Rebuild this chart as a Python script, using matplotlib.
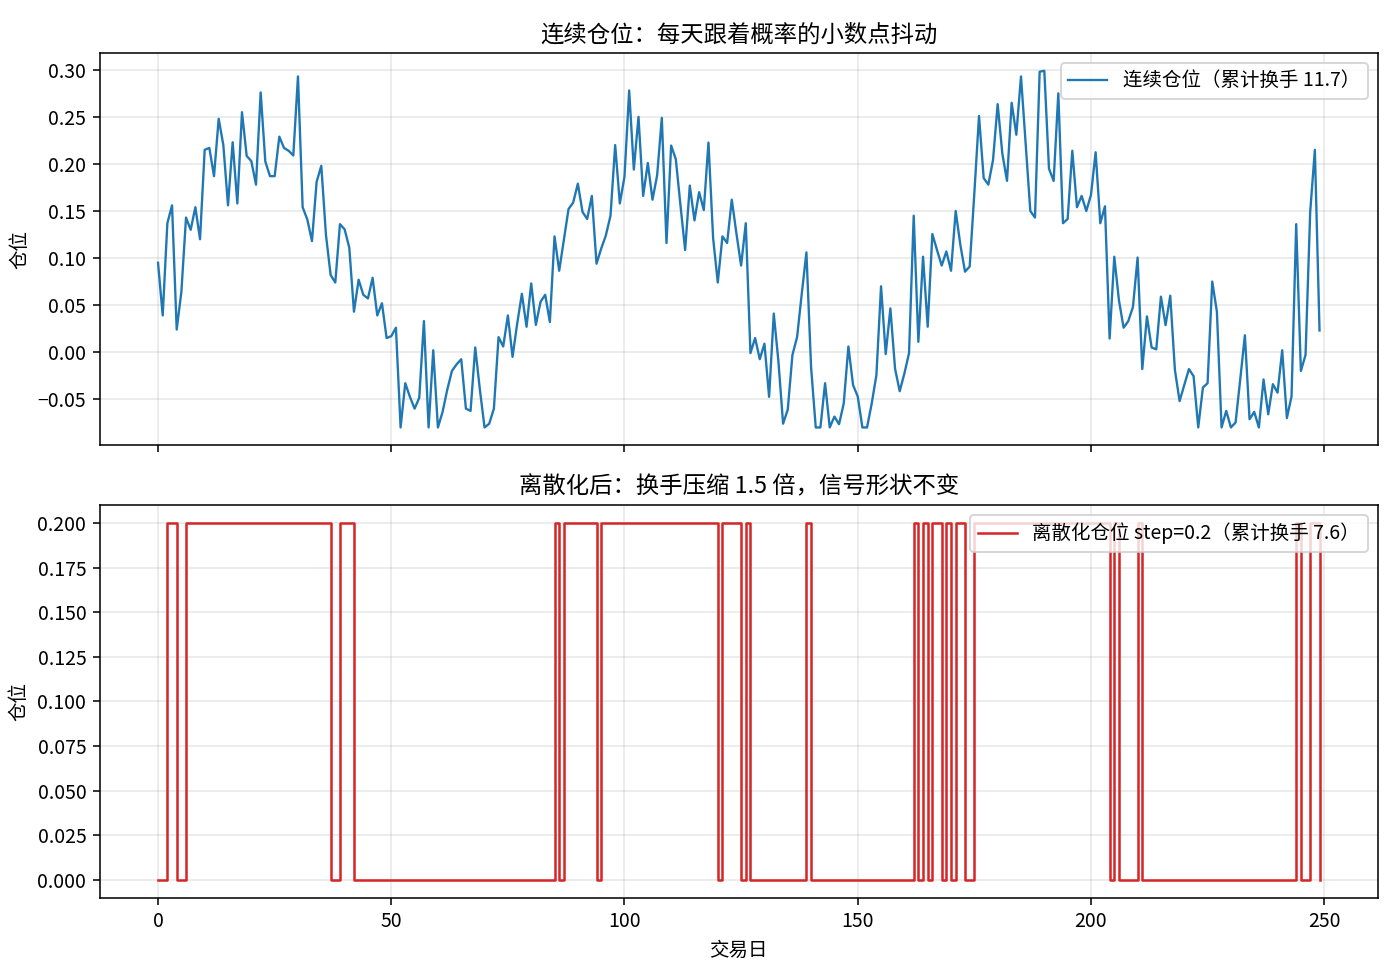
import numpy as np
import matplotlib
matplotlib.use("Agg")
import matplotlib.pyplot as plt

plt.rcParams['font.family'] = ['Noto Sans CJK SC', 'DejaVu Sans']
plt.rcParams['axes.unicode_minus'] = True

# continuous position per trading day
cont_pos = [
    0.095, 0.039, 0.137, 0.156, 0.024, 0.064, 0.143, 0.130, 0.154, 0.120,
    0.215, 0.217, 0.187, 0.248, 0.220, 0.156, 0.223, 0.158, 0.255, 0.2085,
    0.203, 0.178, 0.276, 0.2025, 0.187, 0.187, 0.229, 0.217, 0.214, 0.209,
    0.293, 0.154, 0.141, 0.118, 0.181, 0.198, 0.1245, 0.082, 0.074, 0.136,
    0.1305, 0.111, 0.043, 0.077, 0.061, 0.057, 0.079, 0.039, 0.052, 0.015,
    0.017, 0.026, -0.080, -0.033, -0.0475, -0.060, -0.0485, 0.033, -0.080, 0.002,
    -0.080, -0.0635, -0.040, -0.020, -0.013, -0.0075, -0.060, -0.0624, 0.005, -0.040,
    -0.080, -0.076, -0.060, 0.016, 0.006, 0.039, -0.005, 0.0305, 0.062, 0.027,
    0.073, 0.029, 0.0535, 0.061, 0.032, 0.123, 0.0865, 0.119, 0.152, 0.159,
    0.179, 0.149, 0.1415, 0.166, 0.094, 0.110, 0.124, 0.145, 0.220, 0.158,
    0.1865, 0.278, 0.194, 0.250, 0.166, 0.201, 0.162, 0.188, 0.249, 0.116,
    0.2195, 0.205, 0.156, 0.1085, 0.177, 0.140, 0.170, 0.151, 0.2227, 0.121,
    0.074, 0.123, 0.116, 0.162, 0.126, 0.092, 0.137, -0.001, 0.015, -0.0075,
    0.009, -0.0475, 0.041, -0.010, -0.076, -0.061, -0.003, 0.016, 0.062, 0.106,
    -0.016, -0.080, -0.080, -0.033, -0.080, -0.0685, -0.0765, -0.0545, 0.006, -0.035,
    -0.047, -0.080, -0.080, -0.0545, -0.0245, 0.070, -0.002, 0.0465, -0.0175, -0.0415,
    -0.0227, -0.001, 0.145, 0.011, 0.1014, 0.027, 0.1255, 0.1085, 0.092, 0.107,
    0.0865, 0.150, 0.114, 0.0855, 0.091, 0.169, 0.251, 0.185, 0.178, 0.204,
    0.2635, 0.211, 0.182, 0.265, 0.231, 0.293, 0.222, 0.150, 0.143, 0.298,
    0.299, 0.195, 0.182, 0.275, 0.137, 0.1415, 0.214, 0.154, 0.166, 0.150,
    0.167, 0.2124, 0.137, 0.155, 0.0145, 0.1014, 0.055, 0.026, 0.033, 0.048,
    0.1005, -0.018, 0.038, 0.005, 0.003, 0.059, 0.0287, 0.060, -0.019, -0.052,
    -0.035, -0.018, -0.0255, -0.080, -0.0376, -0.033, 0.075, 0.043, -0.080, -0.0624,
    -0.080, -0.0748, -0.029, 0.018, -0.0713, -0.0635, -0.080, -0.029, -0.066, -0.034,
    -0.043, 0.002, -0.070, -0.047, 0.136, -0.020, -0.003, 0.149, 0.215, 0.023,
]
step = 0.2
turnover_cont = 11.7
turnover_disc = 7.6

title_top = "连续仓位：每天跟着概率的小数点抖动"
title_bottom = "离散化后：换手压缩 1.5 倍，信号形状不变"
label_top = f"连续仓位（累计换手 {turnover_cont}）"
label_bottom = f"离散化仓位 step={step}（累计换手 {turnover_disc}）"
ylabel = "仓位"
xlabel = "交易日"

days = np.arange(len(cont_pos))
cont = np.array(cont_pos)
disc = np.round(cont / step) * step
disc = np.where(np.abs(disc) < 1e-9, 0.0, disc)

fig, (ax1, ax2) = plt.subplots(2, 1, figsize=(10, 7), dpi=140, sharex=True)
fig.subplots_adjust(left=0.0714, right=0.984, top=0.946, bottom=0.084, hspace=0.153)

ax1.plot(days, cont, color="#1f77b4", lw=1.2, label=label_top)
ax1.set_title(title_top, fontsize=12)
ax1.set_ylabel(ylabel)
ax1.grid(True, alpha=0.3)
ax1.legend(loc="upper right")

ax2.plot(days, disc, color="#d62728", lw=1.3, drawstyle="steps-post", label=label_bottom)
ax2.set_title(title_bottom, fontsize=12)
ax2.set_ylabel(ylabel)
ax2.set_xlabel(xlabel)
ax2.grid(True, alpha=0.3)
ax2.legend(loc="upper right")

fig.savefig("out.png", dpi=140)
